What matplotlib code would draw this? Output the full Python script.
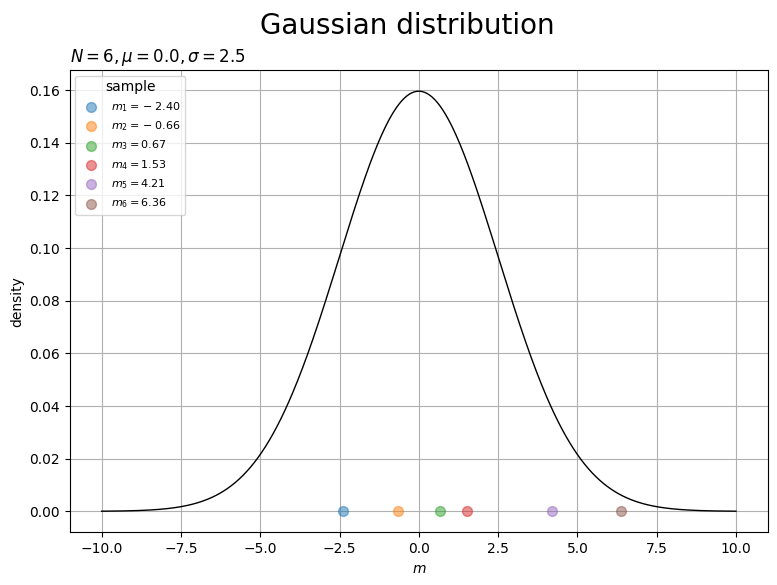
import numpy as np
import matplotlib
matplotlib.use("Agg")
import matplotlib.pyplot as plt

N = 6
mu = 0.0
sigma = 2.5
samples = [-2.40, -0.66, 0.67, 1.53, 4.21, 6.36]
x_min, x_max = -10.0, 10.0

x = np.linspace(x_min, x_max, 500)
pdf = np.exp(-0.5 * ((x - mu) / sigma) ** 2) / (sigma * np.sqrt(2 * np.pi))

fig, ax = plt.subplots(figsize=(7.77, 5.85), dpi=100)
fig.subplots_adjust(left=0.09, right=0.988, top=0.88, bottom=0.09)
ax.plot(x, pdf, color="black", lw=1)
for i, m in enumerate(samples):
    if m < 0:
        lab = f"$m_{i+1} = {{}}- {abs(m):.2f}$"
    else:
        lab = f"$m_{i+1} = {m:.2f}$"
    ax.scatter([m], [0], s=50, alpha=0.5, color=f"C{i}", label=lab, zorder=3)
ax.grid(True)
ax.set_xlabel("$m$")
ax.set_ylabel("density")
ax.set_title(f"$N={N}, \\mu={mu:.1f}, \\sigma={sigma}$", loc="left")
fig.suptitle("Gaussian distribution", fontsize=20, x=0.5245)
ax.legend(title="sample", fontsize=8, loc="upper left")
fig.savefig("out.png", dpi=100)
